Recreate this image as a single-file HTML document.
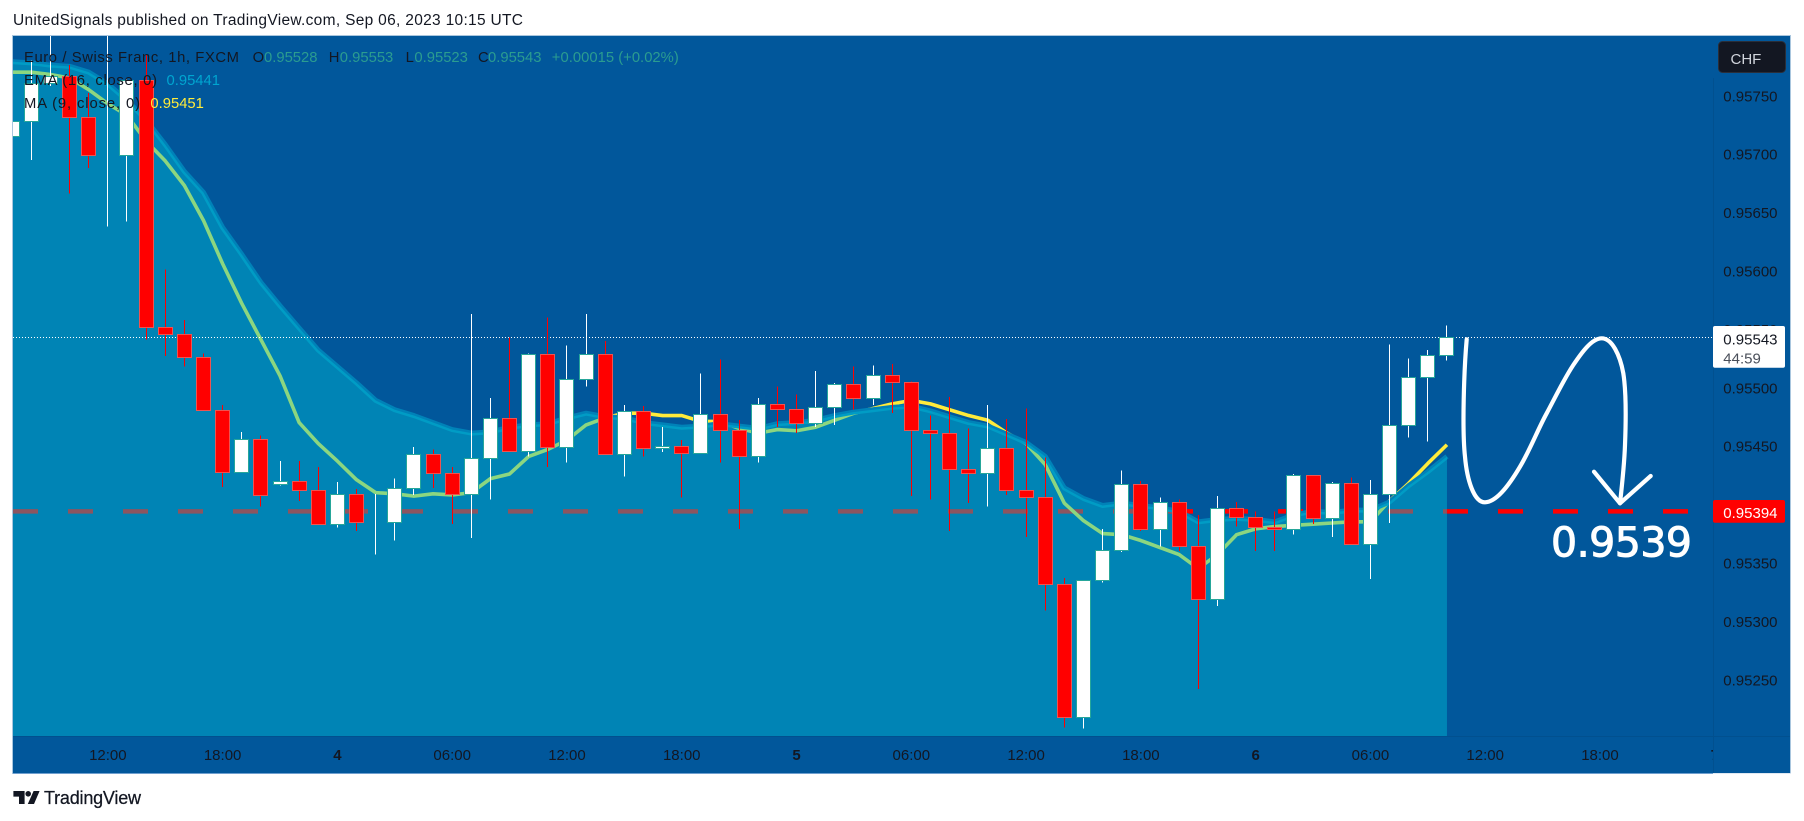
<!DOCTYPE html>
<html lang="en">
<head>
<meta charset="utf-8">
<title>EUR/CHF 1h chart</title>
<style>
html,body{margin:0;padding:0;background:#fff;}
svg{display:block;}
text{font-family:"Liberation Sans",sans-serif;}
</style>
</head>
<body>
<svg id="chart" xmlns="http://www.w3.org/2000/svg" width="1804" height="821" viewBox="0 0 1804 821">
  <defs>
    <clipPath id="plot-clip"><rect x="13" y="36" width="1700" height="700"/></clipPath>
    <clipPath id="time-clip"><rect x="13" y="736" width="1700" height="37"/></clipPath>
  </defs>
  <text x="13" y="25" font-size="15.5" fill="#131722" textLength="510">UnitedSignals published on TradingView.com, Sep 06, 2023 10:15 UTC</text>
  <rect x="12.5" y="35.5" width="1778" height="738" fill="#01579b" stroke="#a9c6de" stroke-width="1"/>
  <line x1="13" y1="773.5" x2="1713" y2="773.5" stroke="#6f9fcf" stroke-width="1"/>
  <line x1="1713" y1="773.5" x2="1791" y2="773.5" stroke="#dfe8f2" stroke-width="1"/>
  <g id="plot" clip-path="url(#plot-clip)"></g>
  <line x1="1713.5" y1="78" x2="1713.5" y2="773" stroke="#01508f" stroke-width="1"/>
  <line x1="13" y1="736.5" x2="1790" y2="736.5" stroke="#01508f" stroke-width="1"/>
  <g id="time-axis" clip-path="url(#time-clip)"></g>
  <g id="price-axis"></g>

  <path d="M1466.7 339.3 C1464 370 1462 430 1465 456.7 C1467 480 1474 502.5 1485 502.3 C1496 502 1508 487 1520 466.7 C1530 450 1538 429 1546.7 413.3 C1556 396 1564 379 1573.3 365 C1582 352 1592 338.3 1601.7 338.3 C1612 338.3 1620 355 1623.3 373.3 C1626 390 1626 420 1625 445 C1624.3 465 1621.5 490 1620 503.3" fill="none" stroke="#fff" stroke-width="4.2" stroke-linecap="round" stroke-linejoin="round"/>
  <path d="M1594 471.7 L1620 503.3 L1650.7 476" fill="none" stroke="#fff" stroke-width="4.2" stroke-linecap="round" stroke-linejoin="round"/>
  <text x="1551" y="556.5" font-size="41" fill="#fff" stroke="#fff" stroke-width="1" style="font-family:'DejaVu Sans',sans-serif" textLength="141">0.9539</text>

  <g font-size="14.8">
    <text x="24" y="62" fill="#131722" textLength="215">Euro / Swiss Franc, 1h, FXCM</text>
    <text x="252.6" y="62" fill="#131722">O</text>
    <text x="264" y="62" fill="#2b9c90">0.95528</text>
    <text x="328.7" y="62" fill="#131722">H</text>
    <text x="339.8" y="62" fill="#2b9c90">0.95553</text>
    <text x="405.6" y="62" fill="#131722">L</text>
    <text x="414.4" y="62" fill="#2b9c90">0.95523</text>
    <text x="478" y="62" fill="#131722">C</text>
    <text x="488" y="62" fill="#2b9c90">0.95543</text>
    <text x="551.8" y="62" fill="#2b9c90" textLength="127">+0.00015 (+0.02%)</text>
    <text x="24" y="85" fill="#131722" textLength="133">EMA (16, close, 0)</text>
    <text x="166.5" y="85" fill="#00a5d0">0.95441</text>
    <text x="24" y="108" fill="#131722" textLength="116">MA (9, close, 0)</text>
    <text x="150.4" y="108" fill="#ffeb3b">0.95451</text>
  </g>

  <g>
    <rect x="1718.5" y="41.5" width="67" height="31" rx="4" fill="#131722" stroke="#2a2e39"/>
    <text x="1730.5" y="64" font-size="15" fill="#d1d4dc">CHF</text>
  </g>

  <g>
    <path d="M13.4 791h11.2v13h-5.6v-7.4h-5.6z" fill="#131722"/>
    <circle cx="28.2" cy="793.8" r="2.8" fill="#131722"/>
    <path d="M33.6 791h6l-5.6 13h-6.2z" fill="#131722"/>
    <text x="44" y="804" font-size="18" fill="#131722" stroke="#131722" stroke-width="0.25" textLength="97">TradingView</text>
  </g>
</svg>
<script>
// ---- Chart data ----
const opens = [0.95715,0.95728,0.95761,0.95767,0.95732,0.95699,0.95699,0.95763,0.95552,0.95546,
0.95526,0.95481,0.95428,0.95456,0.95417,0.95420,0.95412,0.95383,0.95409,0.95385,
0.95385,0.95414,0.95443,0.95427,0.95409,0.95440,0.95474,0.95446,0.95529,0.95449,
0.95507,0.95529,0.95443,0.95480,0.95448,0.95450,0.95444,0.95477,0.95464,0.95441,
0.95486,0.95482,0.95470,0.95483,0.95503,0.95491,0.95511,0.95505,0.95464,0.95461,
0.95430,0.95427,0.95448,0.95412,0.95406,0.95332,0.95218,0.95335,0.95361,0.95417,
0.95379,0.95402,0.95364,0.95319,0.95397,0.95389,0.95381,0.95379,0.95425,0.95388,
0.95418,0.95366,0.95409,0.95468,0.95509,0.95528];
const highs = [0.95728,0.95780,0.95801,0.95776,0.95752,0.95801,0.95765,0.95785,0.95601,0.95558,
0.95529,0.95485,0.95462,0.95459,0.95437,0.95437,0.95432,0.95419,0.95413,0.95409,
0.95422,0.95449,0.95447,0.95432,0.95563,0.95491,0.95543,0.95529,0.95560,0.95536,
0.95563,0.95540,0.95485,0.95484,0.95466,0.95455,0.95512,0.95524,0.95472,0.95491,
0.95501,0.95494,0.95514,0.95504,0.95518,0.95519,0.95520,0.95505,0.95476,0.95492,
0.95465,0.95485,0.95473,0.95482,0.95440,0.95337,0.95335,0.95379,0.95429,0.95420,
0.95406,0.95404,0.95391,0.95407,0.95402,0.95394,0.95394,0.95426,0.95425,0.95419,
0.95423,0.95421,0.95537,0.95525,0.95532,0.95553];
const lows = [0.95715,0.95695,0.95758,0.95666,0.95688,0.95638,0.95642,0.95541,0.95527,0.95518,
0.95481,0.95415,0.95427,0.95398,0.95416,0.95403,0.95383,0.95380,0.95377,0.95357,
0.95369,0.95408,0.95414,0.95383,0.95371,0.95404,0.95446,0.95441,0.95432,0.95436,
0.95501,0.95443,0.95424,0.95441,0.95445,0.95406,0.95444,0.95436,0.95379,0.95436,
0.95466,0.95461,0.95466,0.95468,0.95481,0.95485,0.95478,0.95407,0.95404,0.95377,
0.95401,0.95398,0.95408,0.95372,0.95309,0.95209,0.95208,0.95333,0.95359,0.95377,
0.95364,0.95360,0.95242,0.95313,0.95381,0.95360,0.95360,0.95374,0.95383,0.95372,
0.95365,0.95336,0.95384,0.95457,0.95454,0.95523];
const closes = [0.95728,0.95761,0.95767,0.95732,0.95699,0.95699,0.95763,0.95552,0.95546,0.95526,
0.95481,0.95428,0.95456,0.95408,0.95420,0.95412,0.95383,0.95409,0.95385,0.95385,
0.95414,0.95443,0.95427,0.95409,0.95440,0.95474,0.95446,0.95529,0.95449,0.95507,
0.95529,0.95443,0.95480,0.95448,0.95450,0.95444,0.95477,0.95464,0.95441,0.95486,
0.95482,0.95470,0.95483,0.95503,0.95491,0.95511,0.95505,0.95464,0.95461,0.95430,
0.95427,0.95448,0.95412,0.95406,0.95332,0.95218,0.95335,0.95361,0.95417,0.95379,
0.95402,0.95364,0.95319,0.95397,0.95389,0.95381,0.95379,0.95425,0.95388,0.95418,
0.95366,0.95409,0.95468,0.95509,0.95528,0.95543];
const emaValues = [0.95779,0.95778,0.95776,0.95775,0.95770,0.95760,0.95746,0.95729,0.95708,0.95685,
0.95667,0.95637,0.95614,0.95590,0.95570,0.95551,0.95532,0.95518,0.95504,0.95489,
0.95481,0.95476,0.95470,0.95464,0.95461,0.95462,0.95466,0.95468,0.95469,0.95474,
0.95478,0.95475,0.95474,0.95470,0.95468,0.95466,0.95467,0.95469,0.95467,0.95465,
0.95469,0.95470,0.95472,0.95476,0.95479,0.95481,0.95483,0.95484,0.95480,0.95475,
0.95470,0.95467,0.95460,0.95453,0.95441,0.95414,0.95405,0.95399,0.95401,0.95399,
0.95397,0.95394,0.95385,0.95387,0.95388,0.95387,0.95385,0.95391,0.95394,0.95393,
0.95395,0.95395,0.95402,0.95416,0.95428,0.95441];
const maValues = [0.95770,0.95770,0.95768,0.95765,0.95755,0.95743,0.95733,0.95711,0.95694,0.95673,
0.95643,0.95606,0.95572,0.95541,0.95510,0.95470,0.95452,0.95437,0.95421,0.95410,
0.95409,0.95407,0.95409,0.95408,0.95410,0.95422,0.95426,0.95441,0.95447,0.95455,
0.95468,0.95474,0.95478,0.95478,0.95476,0.95476,0.95471,0.95471,0.95465,0.95461,
0.95464,0.95463,0.95466,0.95472,0.95478,0.95482,0.95486,0.95489,0.95486,0.95481,
0.95476,0.95472,0.95461,0.95452,0.95434,0.95401,0.95386,0.95375,0.95374,0.95369,
0.95363,0.95357,0.95345,0.95357,0.95374,0.95379,0.95381,0.95382,0.95383,0.95384,
0.95385,0.95385,0.95403,0.95418,0.95435,0.95451];
const priceTicks = [0.95750,0.95700,0.95650,0.95600,0.95550,0.95500,0.95450,0.95400,0.95350,0.95300,0.95250];
const timeTickBars = [5,11,17,23,29,35,41,47,53,59,65,71,77,83,89];
const timeTickLabels = ['12:00','18:00','4','06:00','12:00','18:00','5','06:00','12:00','18:00','6','06:00','12:00','18:00','7'];
const timeTickMajor = [false,false,true,false,false,false,true,false,false,false,true,false,false,false,true];
const lastPrice = 0.95543;
const targetPrice = 0.95394;
const countdown = '44:59';

// ---- Axis functions ----
function xScale(i){ return 12.2 + 19.13 * i; }
function yScale(p){ return 337.3 + (0.95543 - p) * 116800; }

const NS = 'http://www.w3.org/2000/svg';
function make(parent, tag, attrs, text){
  const el = document.createElementNS(NS, tag);
  for (const k in attrs) el.setAttribute(k, attrs[k]);
  if (text !== undefined) el.textContent = text;
  parent.appendChild(el);
  return el;
}
function linePath(values){
  return values.map((v, i) => (i ? 'L' : 'M') + xScale(i).toFixed(2) + ' ' + yScale(v).toFixed(2)).join(' ');
}

const plot = document.getElementById('plot');
const PLOT_BOTTOM = 736, PLOT_LEFT = 13, PLOT_RIGHT = 1713;

// target dashed line (sits under the fill)
const targetLine = make(plot, 'line', {x1: PLOT_LEFT, x2: PLOT_RIGHT, y1: yScale(targetPrice), y2: yScale(targetPrice), stroke: '#ff0000', 'stroke-width': 4.5, 'stroke-dasharray': '25 30'});



// MA line
const maLine = make(plot, 'path', {d: linePath(maValues), fill: 'none', stroke: '#ffeb3b', 'stroke-width': 3.6, 'stroke-linejoin': 'round'});



// EMA line
const emaLine = make(plot, 'path', {d: linePath(emaValues), fill: 'none', stroke: '#0082b8', 'stroke-width': 5, 'stroke-linejoin': 'round'});



// Area below the EMA, drawn over both lines
const lastIndex = emaValues.length - 1;
const areaD = linePath(emaValues) + ' L' + xScale(lastIndex).toFixed(2) + ' ' + PLOT_BOTTOM + ' L' + xScale(0).toFixed(2) + ' ' + PLOT_BOTTOM + ' Z';
const emaArea = make(plot, 'path', {d: areaD, fill: '#00bcd4', 'fill-opacity': 0.45});



// Last price dotted line
const priceLine = make(plot, 'line', {x1: PLOT_LEFT, x2: PLOT_RIGHT, y1: Math.floor(yScale(lastPrice)) + 0.5, y2: Math.floor(yScale(lastPrice)) + 0.5, stroke: '#ffffff', 'stroke-width': 1, 'stroke-dasharray': '1 2'});



// Candles
closes.forEach((c, i) => {
  const o = opens[i];
  const up = c >= o;
  const cx = Math.round(xScale(i) - 0.5);
  const yTop = Math.round(yScale(Math.max(o, c)));
  const yBot = Math.round(yScale(Math.min(o, c)));
  const g = make(plot, 'g', {'shape-rendering': 'crispEdges'});
  
  
  const wick = make(g, 'rect', {x: cx, y: yScale(highs[i]), width: 1, height: Math.max(0, yScale(lows[i]) - yScale(highs[i])), fill: up ? '#ffffff' : '#ff0000'});
  
  
  const body = make(g, 'rect', {x: cx - 6.5, y: yTop + 0.5, width: 14, height: Math.max(0, yBot - yTop), fill: up ? '#ffffff' : '#ff0000', stroke: up ? '#26a69a' : '#ef5350', 'stroke-width': 1});
  
  
});

// Time axis
const timeAxis = document.getElementById('time-axis');
timeTickBars.forEach((b, i) => {
  const t = make(timeAxis, 'text', {x: xScale(b), y: 760, 'text-anchor': 'middle', 'font-size': 15, 'font-weight': timeTickMajor[i] ? 'bold' : 'normal', fill: '#131722'}, timeTickLabels[i]);
  
  
});

// Price axis
const priceAxis = document.getElementById('price-axis');
priceTicks.forEach((p) => {
  const t = make(priceAxis, 'text', {x: 1723.3, y: yScale(p) + 5.8, 'font-size': 15, fill: '#131722'}, p.toFixed(5));
  
  
});

// Last price tag
const lastY = yScale(lastPrice);
const lastTag = make(priceAxis, 'rect', {x: 1713, y: lastY - 11.3, width: 72, height: 41.7, rx: 2, fill: '#ffffff'});


const lastText = make(priceAxis, 'text', {x: 1723.3, y: lastY + 7, 'font-size': 15, fill: '#131722'}, lastPrice.toFixed(5));


const countText = make(priceAxis, 'text', {x: 1723.3, y: lastY + 26, 'font-size': 15, fill: '#4a4f5a'}, countdown);



// Target price tag
const targetY = yScale(targetPrice);
const targetTag = make(priceAxis, 'rect', {x: 1713, y: targetY - 11.3, width: 72, height: 22.7, rx: 2, fill: '#ff0000'});


const targetText = make(priceAxis, 'text', {x: 1723.3, y: targetY + 6.5, 'font-size': 15, fill: '#ffffff'}, targetPrice.toFixed(5));


</script>
</body>
</html>
